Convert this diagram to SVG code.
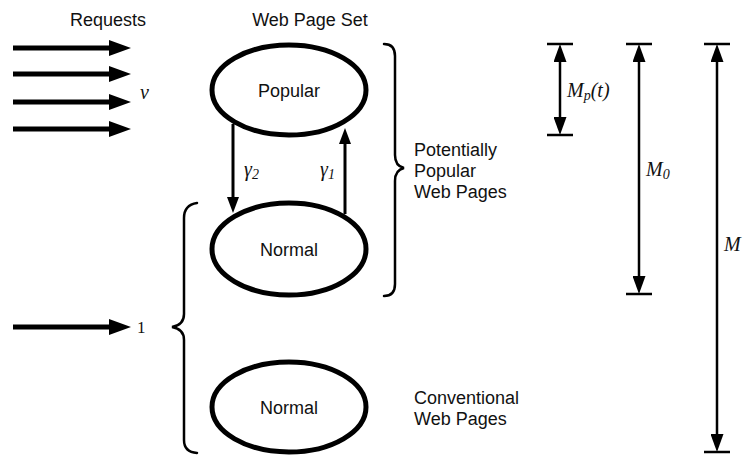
<svg xmlns="http://www.w3.org/2000/svg" width="748" height="456" viewBox="0 0 748 456">
  <defs>
    <style>
      .lbl { font-family: "Liberation Sans", Arial, sans-serif; font-size: 18px; fill: #111; }
      .math { font-family: "Liberation Serif", "Times New Roman", serif; font-style: italic; font-size: 20px; fill: #111; }
      .sub { font-size: 14px; }
      .num { font-family: "Liberation Serif", "Times New Roman", serif; font-size: 17px; fill: #111; }
      .state { fill: #fff; stroke: #000; stroke-width: 5; }
      .req { stroke: #000; stroke-width: 5; fill: none; marker-end: url(#reqHead); }
      .flow { stroke: #000; stroke-width: 3; fill: none; marker-end: url(#flowHead); }
      .dim { stroke: #000; stroke-width: 2.5; fill: none; marker-start: url(#dimHead); marker-end: url(#dimHead); }
      .tick { stroke: #000; stroke-width: 2.5; }
      .brace { stroke: #000; stroke-width: 2.5; fill: none; stroke-linecap: round; }
    </style>
    <marker id="reqHead" markerUnits="userSpaceOnUse" markerWidth="22" markerHeight="16" refX="11" refY="8" orient="auto">
      <path d="M0,0 L22,8 L0,16 z" fill="#000"/>
    </marker>
    <marker id="flowHead" markerUnits="userSpaceOnUse" markerWidth="16" markerHeight="12" refX="8" refY="6" orient="auto">
      <path d="M0,0 L16,6 L0,12 z" fill="#000"/>
    </marker>
    <marker id="dimHead" markerUnits="userSpaceOnUse" markerWidth="18" markerHeight="13" refX="9" refY="6.5" orient="auto-start-reverse">
      <path d="M0,0 L18,6.5 L0,13 z" fill="#000"/>
    </marker>
  </defs>

  <rect width="748" height="456" fill="#fff"/>

  <!-- column headings -->
  <text class="lbl" x="108" y="26" text-anchor="middle">Requests</text>
  <text class="lbl" x="310" y="26" text-anchor="middle">Web Page Set</text>

  <!-- incoming request streams -->
  <g id="requests">
    <line class="req" x1="13" y1="48" x2="120" y2="48"/>
    <line class="req" x1="13" y1="74" x2="120" y2="74"/>
    <line class="req" x1="13" y1="102" x2="120" y2="102"/>
    <line class="req" x1="13" y1="129" x2="120" y2="129"/>
    <text class="math" x="140" y="99" font-size="16">v</text>
    <line class="req" x1="13" y1="327" x2="120" y2="327"/>
    <text class="num" x="137" y="333">1</text>
  </g>

  <!-- page states -->
  <g id="popular">
    <ellipse class="state" cx="289" cy="90" rx="77" ry="45"/>
    <text class="lbl" x="289" y="97" text-anchor="middle">Popular</text>
  </g>
  <g id="normal-potential">
    <ellipse class="state" cx="289" cy="249" rx="77" ry="46"/>
    <text class="lbl" x="289" y="256" text-anchor="middle">Normal</text>
  </g>
  <g id="normal-conventional">
    <ellipse class="state" cx="289" cy="407" rx="77" ry="45"/>
    <text class="lbl" x="289" y="414" text-anchor="middle">Normal</text>
  </g>

  <!-- transitions between states -->
  <g id="connectors">
    <line class="flow" x1="233" y1="124" x2="233" y2="205"/>
    <line class="flow" x1="345" y1="214" x2="345" y2="136"/>
    <text class="math" x="244" y="176">γ<tspan class="sub" dy="3">2</tspan></text>
    <text class="math" x="320" y="176">γ<tspan class="sub" dy="3">1</tspan></text>
  </g>

  <!-- groupings -->
  <g id="potential-group">
    <path class="brace" d="M384 44 Q395 44 395 56 L395 155 Q395 166 404 168 Q395 170 395 181 L395 284 Q395 296 384 296"/>
    <text class="lbl" x="414" y="156">Potentially</text>
    <text class="lbl" x="414" y="177">Popular</text>
    <text class="lbl" x="414" y="198">Web Pages</text>
  </g>
  <g id="normal-group">
    <path class="brace" d="M197 203 Q184 205 184 218 L184 314 Q184 325 172 327 Q184 329 184 340 L184 440 Q184 452 197 453"/>
    <text class="lbl" x="414" y="404">Conventional</text>
    <text class="lbl" x="414" y="425">Web Pages</text>
  </g>

  <!-- size scales -->
  <g id="scale-mp">
    <line class="tick" x1="547" y1="44" x2="573" y2="44"/>
    <line class="tick" x1="547" y1="135" x2="573" y2="135"/>
    <line class="dim" x1="560" y1="53" x2="560" y2="126"/>
    <text class="math" x="567" y="97">M<tspan class="sub" dy="3">p</tspan><tspan dy="-3">(t)</tspan></text>
  </g>
  <g id="scale-m0">
    <line class="tick" x1="626" y1="44" x2="652" y2="44"/>
    <line class="tick" x1="626" y1="294" x2="652" y2="294"/>
    <line class="dim" x1="639" y1="53" x2="639" y2="285"/>
    <text class="math" x="646" y="176">M<tspan class="sub" dy="3">0</tspan></text>
  </g>
  <g id="scale-m">
    <line class="tick" x1="704" y1="44" x2="730" y2="44"/>
    <line class="tick" x1="704" y1="452" x2="730" y2="452"/>
    <line class="dim" x1="717" y1="53" x2="717" y2="443"/>
    <text class="math" x="724" y="251">M</text>
  </g>
</svg>
